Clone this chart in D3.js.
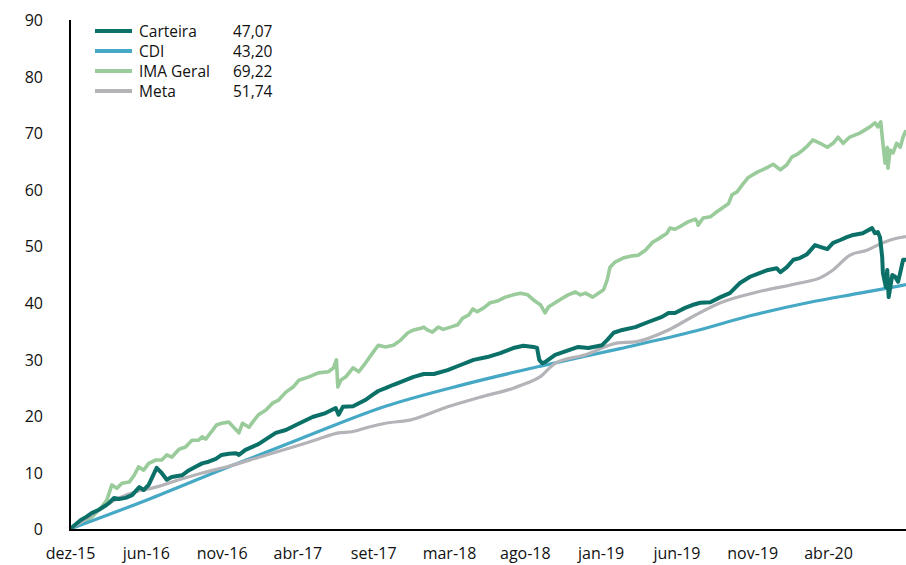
<!DOCTYPE html>
<html lang="pt-BR">
<head>
<meta charset="UTF-8">
<title>Carteira x CDI x IMA Geral x Meta</title>
<script src="https://d3js.org/d3.v7.min.js"></script>
<style>
    body { margin: 0; background: #fff; }
    svg text { font-family: "Open Sans", "Noto Sans", sans-serif; fill: #111; }
</style>
</head>
<body>
<svg id="chart" width="906" height="565"></svg>
<script>
// eixo x: dias úteis desde dez-15, um rótulo a cada 105 dias
var rotulosX = ["dez-15", "jun-16", "nov-16", "abr-17", "set-17", "mar-18", "ago-18", "jan-19", "jun-19", "nov-19", "abr-20"];
var diasRotulos = [0, 105, 210, 315, 420, 525, 630, 735, 840, 945, 1050];
var ultimoDia = 1158;
var ticksY = [0, 10, 20, 30, 40, 50, 60, 70, 80, 90];

// séries: [dia, rentabilidade acumulada %]
var carteira = [
    [0, 0], [15, 1.6], [22, 2.1], [30, 2.8], [40, 3.4], [50, 4.2], [54, 4.6], [61, 5.5], [68, 5.3],
    [77, 5.5], [86, 6.0], [96, 7.4], [102, 6.9], [109, 7.8], [120, 10.8], [127, 9.9], [134, 8.7],
    [141, 9.2], [155, 9.5], [165, 10.4], [174, 11.0], [183, 11.6], [192, 11.9], [202, 12.4], [210, 13.1],
    [220, 13.3], [230, 13.4], [234, 13.1], [243, 14.0], [261, 15.0], [285, 17.0], [299, 17.5], [313, 18.4],
    [336, 19.8], [354, 20.5], [368, 21.4], [372, 20.2], [378, 21.6], [392, 21.7], [409, 22.8], [419, 23.7],
    [427, 24.4], [437, 24.9], [448, 25.5], [476, 26.9], [490, 27.4], [504, 27.4], [523, 28.1], [541, 29.0],
    [559, 29.9], [578, 30.4], [596, 31.1], [614, 32.0], [628, 32.4], [642, 32.2], [647, 32.0], [650, 29.9],
    [654, 29.3], [658, 29.5], [672, 30.8], [690, 31.6], [704, 32.2], [718, 32.0], [737, 32.5], [744, 33.4],
    [753, 34.7], [765, 35.2], [783, 35.7], [801, 36.6], [820, 37.5], [829, 38.2], [838, 38.2], [852, 39.1],
    [862, 39.6], [873, 40.0], [887, 40.1], [901, 41.0], [914, 41.7], [928, 43.5], [942, 44.6], [956, 45.3],
    [967, 45.8], [979, 46.1], [984, 45.4], [993, 46.3], [1002, 47.6], [1011, 47.9], [1021, 48.6], [1032, 50.2],
    [1039, 49.9], [1049, 49.5], [1057, 50.6], [1067, 51.1], [1076, 51.6], [1085, 52.0], [1098, 52.3], [1111, 53.2],
    [1115, 52.3], [1119, 52.5], [1122, 51.6], [1125, 48.1], [1126, 45.3], [1130, 42.8], [1132, 45.8], [1134, 41.0],
    [1139, 44.9], [1143, 44.6], [1147, 43.7], [1150, 45.3], [1154, 47.6], [1158, 47.6]
];
var cdi = [
    [0, 0], [112, 5.4], [220, 11.0], [320, 16.0], [437, 21.7], [541, 25.4], [652, 28.8], [762, 31.9],
    [866, 35.0], [942, 37.7], [1025, 40.1], [1094, 41.7], [1158, 43.2]
];
var imaGeral = [
    [0, 0], [17, 1.0], [30, 2.1], [44, 3.9], [51, 5.1], [58, 7.8], [65, 7.2], [72, 8.1], [82, 8.3],
    [89, 9.5], [95, 11.0], [102, 10.4], [109, 11.6], [119, 12.2], [127, 12.2], [134, 13.1], [141, 12.7],
    [151, 14.1], [160, 14.5], [169, 15.7], [178, 15.7], [183, 16.3], [188, 15.9], [196, 17.2], [203, 18.4],
    [210, 18.7], [220, 18.9], [225, 18.2], [234, 17.0], [239, 18.7], [248, 18.0], [253, 18.9], [261, 20.2],
    [271, 21.0], [281, 22.3], [289, 22.8], [299, 24.2], [309, 25.1], [317, 26.3], [331, 26.9], [344, 27.6],
    [358, 27.8], [365, 28.5], [369, 29.9], [371, 25.1], [375, 26.3], [382, 26.9], [392, 28.5], [400, 27.8],
    [409, 29.3], [419, 31.1], [427, 32.5], [437, 32.2], [448, 32.5], [458, 33.4], [468, 34.7], [476, 35.2],
    [486, 35.5], [490, 35.7], [495, 35.2], [502, 34.8], [510, 35.7], [517, 35.3], [527, 35.7], [537, 36.1],
    [544, 37.3], [552, 37.8], [558, 38.9], [564, 38.4], [573, 39.1], [582, 40.0], [592, 40.3], [603, 41.0],
    [614, 41.4], [624, 41.7], [634, 41.4], [642, 40.5], [652, 39.6], [658, 38.2], [663, 39.3], [672, 40.0],
    [682, 40.8], [690, 41.4], [700, 41.9], [707, 41.4], [714, 41.7], [724, 41.0], [732, 41.7], [739, 42.3],
    [744, 44.0], [748, 46.3], [755, 47.2], [766, 47.9], [779, 48.3], [787, 48.4], [797, 49.3], [807, 50.7],
    [815, 51.3], [827, 52.3], [831, 53.2], [838, 53.0], [848, 53.7], [856, 54.3], [866, 54.8], [869, 54.3],
    [870, 53.7], [877, 55.0], [887, 55.2], [896, 56.1], [905, 56.9], [912, 57.5], [917, 59.1], [924, 59.6],
    [931, 60.8], [939, 62.1], [952, 63.1], [959, 63.5], [967, 64.0], [974, 64.5], [984, 63.5], [993, 64.4],
    [1000, 65.8], [1008, 66.3], [1015, 67.0], [1022, 67.8], [1029, 68.8], [1039, 68.2], [1049, 67.5], [1057, 68.2],
    [1064, 69.3], [1071, 68.2], [1080, 69.3], [1094, 70.0], [1108, 71.1], [1115, 71.8], [1119, 71.1], [1123, 72.0],
    [1126, 68.2], [1129, 64.7], [1132, 67.5], [1133, 63.8], [1136, 67.0], [1140, 66.5], [1145, 68.2], [1150, 67.5],
    [1154, 69.3], [1158, 70.5]
];
var meta = [
    [0, 0], [26, 2.1], [44, 3.7], [68, 5.5], [91, 6.6], [119, 7.4], [151, 8.7], [183, 9.9], [220, 11.1],
    [262, 12.7], [309, 14.5], [344, 15.9], [372, 17.0], [391, 17.2], [413, 18.0], [437, 18.7], [472, 19.3],
    [523, 21.6], [568, 23.3], [614, 24.9], [633, 25.8], [651, 26.9], [672, 29.3], [714, 30.8], [759, 32.9],
    [783, 33.1], [829, 35.2], [866, 37.8], [901, 40.0], [952, 41.9], [1011, 43.5], [1039, 44.4], [1057, 45.8],
    [1080, 48.4], [1104, 49.3], [1126, 50.6], [1145, 51.4], [1158, 51.7]
];

var series = [
    { nome: "Carteira", valor: "47,07", dados: carteira, cor: "#0b7168", largura: 4, curva: d3.curveLinear },
    { nome: "CDI", valor: "43,20", dados: cdi, cor: "#45a8c4", largura: 3.2, curva: d3.curveMonotoneX },
    { nome: "IMA Geral", valor: "69,22", dados: imaGeral, cor: "#9acb9b", largura: 3.6, curva: d3.curveLinear },
    { nome: "Meta", valor: "51,74", dados: meta, cor: "#b3b3b8", largura: 3.2, curva: d3.curveMonotoneX }
];

var svg = d3.select("#chart");
var x = d3.scaleLinear().domain([0, ultimoDia]).range([70, 906]);
var y = d3.scaleLinear().domain([0, 90]).range([529, 20]);

// rótulos do eixo y
svg.append("g")
    .attr("transform", "translate(70,0)")
    .call(d3.axisLeft(y).tickValues(ticksY).tickSize(0).tickPadding(27))
    .call(function(g) { g.select(".domain").remove(); })
    .selectAll("text")
    .style("font-size", "16px")
    .attr("dy", "0.36em");

// rótulos do eixo x
svg.append("g")
    .attr("transform", "translate(0,530)")
    .call(d3.axisBottom(x).tickValues(diasRotulos).tickFormat(function(d, i) { return rotulosX[i]; }).tickSize(0).tickPadding(18))
    .call(function(g) { g.select(".domain").remove(); })
    .selectAll("text")
    .style("font-size", "16px");

// linhas (IMA por baixo, Carteira por cima)
var ordem = [series[2], series[1], series[3], series[0]];
ordem.forEach(function(s) {
    var linha = d3.line()
        .x(function(d) { return x(d[0]); })
        .y(function(d) { return y(d[1]); })
        .curve(s.curva);
    svg.append("path")
        .datum(s.dados)
        .attr("fill", "none")
        .attr("stroke", s.cor)
        .attr("stroke-width", s.largura)
        .attr("stroke-linejoin", "round")
        .attr("d", linha);
});

// eixos
svg.append("line").attr("x1", 70).attr("x2", 70).attr("y1", 20).attr("y2", 531)
    .attr("stroke", "#000").attr("stroke-width", 2);
svg.append("line").attr("x1", 69).attr("x2", 906).attr("y1", 530).attr("y2", 530)
    .attr("stroke", "#000").attr("stroke-width", 2);

// legenda
var legenda = svg.append("g").selectAll("g")
    .data(series)
    .enter().append("g")
    .attr("transform", function(d, i) { return "translate(95," + (31 + i * 20) + ")"; });
legenda.append("line")
    .attr("x1", 0).attr("x2", 37)
    .attr("stroke", function(d) { return d.cor; })
    .attr("stroke-width", 4);
legenda.append("text")
    .attr("x", 44).attr("dy", "0.36em")
    .style("font-size", "15.5px")
    .text(function(d) { return d.nome; });
legenda.append("text")
    .attr("x", 138).attr("dy", "0.36em")
    .style("font-size", "15.5px")
    .text(function(d) { return d.valor; });
</script>
</body>
</html>
